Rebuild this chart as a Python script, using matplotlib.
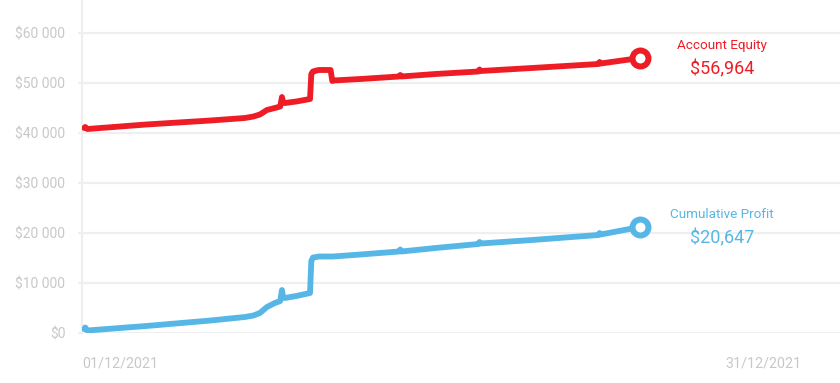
import pandas as pd
import matplotlib.pyplot as plt
import matplotlib.dates as mdates
from matplotlib.ticker import FuncFormatter

plt.rcParams['font.family'] = ['Roboto', 'DejaVu Sans']

# Datos (días desde 01/12/2021)
dias = [0.10, 0.15, 0.25, 3.0, 6.0, 7.6, 8.0, 8.3, 8.63, 9.0, 9.25, 9.33, 9.38, 9.47,
        10.0, 10.64, 10.70, 10.78, 10.95, 11.05, 11.6, 11.68, 11.72, 13.0, 14.8, 14.85,
        14.9, 16.5, 18.5, 18.55, 18.6, 21.0, 24.1, 24.15, 24.2, 26.04]
equity = [41000, 41200, 40800, 41700, 42500, 43000, 43300, 43700, 44600, 45000, 45300,
          47200, 46200, 46000, 46300, 46800, 51800, 52300, 52500, 52600, 52600, 50400,
          50500, 50800, 51300, 51600, 51300, 51800, 52300, 52700, 52400, 53000, 53800,
          54200, 53900, 55000]
profit = [800, 1100, 500, 1400, 2500, 3200, 3500, 4000, 5200, 6000, 6400,
          8600, 7200, 7000, 7400, 8000, 14400, 15100, 15200, 15300, 15300, 15300,
          15300, 15700, 16300, 16700, 16300, 17000, 17800, 18200, 17900, 18600, 19600,
          20000, 19700, 21200]

inicio = pd.Timestamp('2021-12-01')
fechas = [inicio + pd.Timedelta(days=d) for d in dias]

rojo = '#ee1c25'
azul = '#56b7e6'
gris = '#c8c8c8'

fig = plt.figure(figsize=(8.4, 3.83), dpi=100)
ax = fig.add_axes([82/840, 50/383, 1 - 82/840, 333/383])

ax.plot(fechas, equity, color=rojo, lw=4.2, solid_joinstyle='round', solid_capstyle='round', zorder=3)
ax.plot(fechas, profit, color=azul, lw=4.2, solid_joinstyle='round', solid_capstyle='round', zorder=3)
ax.plot(fechas[-1], equity[-1], 'o', ms=11.5, mfc='white', mec=rojo, mew=4.3, zorder=4)
ax.plot(fechas[-1], profit[-1], 'o', ms=11.5, mfc='white', mec=azul, mew=4.3, zorder=4)

# Etiquetas finales
x_lbl = inicio + pd.Timedelta(days=29.85)
ax.text(x_lbl, 57600, 'Account Equity', color=rojo, fontsize=9.7, ha='center', va='center')
ax.text(x_lbl, 52800, '$56,964', color=rojo, fontsize=13, ha='center', va='center')
ax.text(x_lbl, 23800, 'Cumulative Profit', color=azul, fontsize=9.7, ha='center', va='center')
ax.text(x_lbl, 19000, '$20,647', color=azul, fontsize=13, ha='center', va='center')

ax.set_xlim(inicio, inicio + pd.Timedelta(days=35.37))
ax.set_ylim(0, 66600)

ax.set_yticks(range(0, 60001, 10000))
ax.yaxis.set_major_formatter(FuncFormatter(lambda v, p: '$' + f'{int(v):,}'.replace(',', ' ')))
ax.set_xticks([inicio, inicio + pd.Timedelta(days=30)])
ax.xaxis.set_major_formatter(mdates.DateFormatter('%d/%m/%Y'))
for t in ax.get_xticklabels():
    t.set_horizontalalignment('left')

ax.grid(axis='y', color='#efefef', lw=1.6)
ax.set_axisbelow(True)
ax.tick_params(axis='y', colors='#efefef', labelcolor=gris, labelsize=10, length=3, width=1.6, pad=9)
ax.tick_params(axis='x', length=0, labelcolor=gris, labelsize=10.3, pad=17)

for s in ['top', 'right', 'bottom']:
    ax.spines[s].set_visible(False)
ax.spines['left'].set_color('#efefef')
ax.spines['left'].set_linewidth(1.6)

plt.savefig('out.png', dpi=100)
